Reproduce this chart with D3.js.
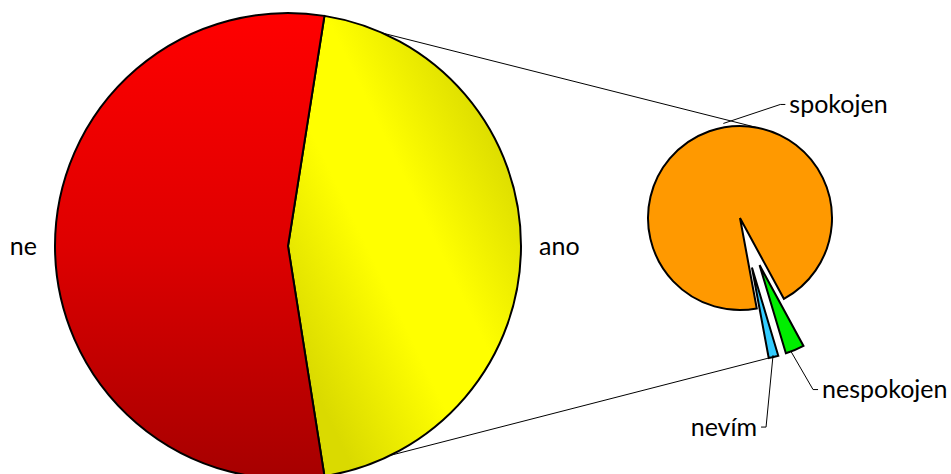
<!DOCTYPE html>
<html>
<head>
<meta charset="utf-8">
<script src="https://cdn.jsdelivr.net/npm/d3@7"></script>
<style>
  html, body { margin: 0; padding: 0; background: #fff; }
  svg { display: block; }
  text { font-family: Lato, "Open Sans", sans-serif; font-size: 25px; fill: #000; }
</style>
</head>
<body>
<script>
// main pie: ano / ne
var mainLabels = ["ano", "ne"];
var mainValues = [45, 55];
var mainColors = ["url(#gYellow)", "url(#gRed)"];

// second pie: breakdown of "ano"
var subLabels = ["spokojen", "nespokojen", "nevím"];
var subValues = [95, 3.3, 1.7];
var subColors = ["#FF9900", "#00EE00", "#33CCFF"];
var subExplode = [0, 51, 51];

var W = 951, H = 474;
var deg = Math.PI / 180;

var big = {cx: 288, cy: 246, r: 233};
var small = {cx: 740, cy: 218, r: 92};

var svg = d3.select("body").append("svg")
    .attr("width", W)
    .attr("height", H);

var defs = svg.append("defs");

var gr = defs.append("linearGradient").attr("id", "gRed")
    .attr("x1", 0).attr("y1", 0).attr("x2", 0).attr("y2", 1);
gr.append("stop").attr("offset", 0).attr("stop-color", "#FF0000");
gr.append("stop").attr("offset", 0.5).attr("stop-color", "#DE0000");
gr.append("stop").attr("offset", 1).attr("stop-color", "#A60000");

// diagonal band, coords relative to the big pie centre
var gy = defs.append("linearGradient").attr("id", "gYellow")
    .attr("gradientUnits", "userSpaceOnUse")
    .attr("x1", 12).attr("y1", 114).attr("x2", 272).attr("y2", -12);
gy.append("stop").attr("offset", 0).attr("stop-color", "#DADA00");
gy.append("stop").attr("offset", 0.38).attr("stop-color", "#FFFF00");
gy.append("stop").attr("offset", 0.6).attr("stop-color", "#FFFF00");
gy.append("stop").attr("offset", 1).attr("stop-color", "#D8D800");

// point on a circle, angle clockwise from 12 o'clock
function pt(c, r, a) {
    return [c[0] + r * Math.sin(a), c[1] - r * Math.cos(a)];
}

// ---- big pie, "ano" centred on 3 o'clock
var bigSpan = mainValues[0] / d3.sum(mainValues) * 2 * Math.PI;
var bigPie = d3.pie().sort(null)
    .startAngle(Math.PI / 2 - bigSpan / 2)
    .endAngle(Math.PI / 2 - bigSpan / 2 + 2 * Math.PI);
var bigArcs = bigPie(mainValues);
var bigArc = d3.arc().innerRadius(0).outerRadius(big.r);

svg.append("g")
    .attr("transform", `translate(${big.cx},${big.cy})`)
  .selectAll("path")
  .data(bigArcs)
  .join("path")
    .attr("d", bigArc)
    .attr("fill", (d, i) => mainColors[i])
    .attr("stroke", "#000")
    .attr("stroke-width", 2)
    .attr("stroke-linejoin", "round");

// ---- second pie
var subStart = 169.5 * deg;
var subPie = d3.pie().sort(null)
    .startAngle(subStart)
    .endAngle(subStart + 2 * Math.PI);
var subArcs = subPie(subValues);
var subArc = d3.arc().innerRadius(0).outerRadius(small.r);

function subCenter(i) {
    var d = subArcs[i];
    var mid = (d.startAngle + d.endAngle) / 2;
    return pt([small.cx, small.cy], subExplode[i], mid);
}

svg.append("g")
  .selectAll("path")
  .data(subArcs)
  .join("path")
    .attr("transform", (d, i) => `translate(${subCenter(i)})`)
    .attr("d", subArc)
    .attr("fill", (d, i) => subColors[i])
    .attr("stroke", "#000")
    .attr("stroke-width", 2)
    .attr("stroke-linejoin", "miter");

// ---- connector lines between the pies
var line = d3.line();
var bc = [big.cx, big.cy], sc = [small.cx, small.cy];
var last = subArcs.length - 1;
var connectors = [
    [pt(bc, big.r, 24 * deg), pt(sc, small.r, 11 * deg)],
    [pt(bc, big.r, 154 * deg), pt(subCenter(last), small.r, subArcs[last].endAngle)]
];
svg.append("g")
  .selectAll("path")
  .data(connectors)
  .join("path")
    .attr("d", line)
    .attr("fill", "none")
    .attr("stroke", "#000")
    .attr("stroke-width", 1);

// ---- labels of the big pie
var bigMid = bigArcs.map(d => (d.startAngle + d.endAngle) / 2);
svg.append("g")
  .selectAll("text")
  .data(mainLabels)
  .join("text")
    .attr("x", (d, i) => pt(bc, big.r + 18, bigMid[i])[0])
    .attr("y", (d, i) => pt(bc, big.r + 18, bigMid[i])[1])
    .attr("dy", "0.35em")
    .attr("text-anchor", (d, i) => Math.sin(bigMid[i]) > 0 ? "start" : "end")
    .text(d => d);

// ---- labels of the second pie with leader lines
// a: angle where the leader leaves the slice, elbow offsets from that point
var subLayout = [
    {a: -10 * deg, rr: small.r + 4, elbow: [57, -19], side: 1},
    {a: 160 * deg, rr: small.r, elbow: [22, 38], side: 1},
    {a: null, rr: small.r - 2, elbow: [-7, 72], side: -1}
];
var gl = svg.append("g");
subLabels.forEach(function(lab, i) {
    var L = subLayout[i];
    var d = subArcs[i];
    var a = L.a === null ? (d.startAngle + d.endAngle) / 2 : L.a;
    var p0 = pt(subCenter(i), L.rr, a);
    var p1 = [p0[0] + L.elbow[0], p0[1] + L.elbow[1]];
    var p2 = [p1[0] + 5 * L.side, p1[1]];
    gl.append("path")
        .attr("d", line([p0, p1, p2]))
        .attr("fill", "none")
        .attr("stroke", "#000")
        .attr("stroke-width", 1);
    gl.append("text")
        .attr("x", p2[0] + 4 * L.side)
        .attr("y", p2[1])
        .attr("dy", "0.35em")
        .attr("text-anchor", L.side > 0 ? "start" : "end")
        .text(lab);
});
</script>
</body>
</html>
